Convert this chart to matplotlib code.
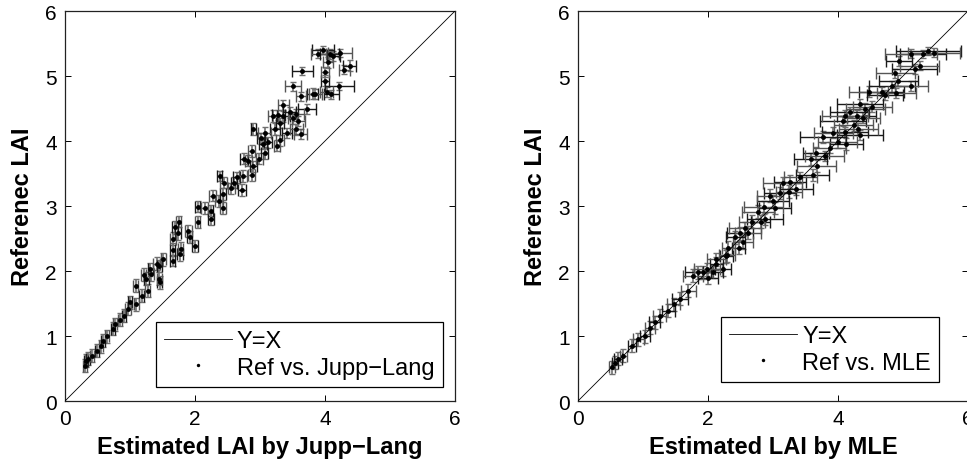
import numpy as np
import matplotlib
matplotlib.use('Agg')
import matplotlib.pyplot as plt

plt.rcParams['font.family'] = ['Liberation Sans', 'DejaVu Sans']

# --- 左图：Jupp-Lang 估计值 vs 参考 LAI ---
jl_x = [3.97, 3.90, 4.07, 4.23, 4.13, 4.05, 4.38, 4.30, 3.65, 4.00,
        4.00, 3.51, 4.22, 4.03, 4.10, 3.85, 3.81, 3.63, 3.72, 3.36,
        3.46, 3.56, 3.28, 3.20, 3.36, 3.51, 3.31, 3.59, 3.23, 3.56,
        3.42, 3.63, 2.90, 3.07, 3.02, 3.31, 3.12, 3.26, 3.05, 2.87,
        3.07, 2.99, 2.76, 2.82, 2.90, 2.87, 2.38, 2.74, 2.64, 2.44,
        2.60, 2.56, 2.72, 2.27, 2.43, 2.37, 2.04, 2.15, 2.24, 2.43,
        2.25, 2.04, 1.69, 1.75, 1.74, 1.90, 1.92, 1.66, 2.00, 1.78,
        1.66, 1.51, 1.66, 1.41, 1.31, 1.21, 1.45, 1.45, 1.25, 1.09,
        1.77, 1.33, 1.46, 1.27, 1.18, 1.10, 1.00, 0.97, 0.91, 0.77,
        0.74, 0.64, 0.59, 0.55, 0.49, 0.41, 0.36, 0.31, 0.32, 0.85]
jl_y = [5.40, 5.34, 5.34, 5.36, 5.31, 5.21, 5.16, 5.10, 5.08, 5.06,
        4.93, 4.84, 4.85, 4.75, 4.72, 4.72, 4.73, 4.69, 4.49, 4.55,
        4.44, 4.42, 4.40, 4.38, 4.38, 4.35, 4.28, 4.31, 4.18, 4.18,
        4.12, 4.11, 4.18, 4.13, 4.04, 4.01, 3.98, 3.93, 3.95, 3.85,
        3.82, 3.73, 3.73, 3.70, 3.61, 3.48, 3.46, 3.46, 3.44, 3.36,
        3.36, 3.27, 3.25, 3.16, 3.18, 3.08, 2.99, 2.97, 2.93, 2.97,
        2.80, 2.75, 2.67, 2.76, 2.58, 2.62, 2.52, 2.50, 2.39, 2.34,
        2.33, 2.18, 2.16, 2.11, 2.03, 1.94, 2.08, 1.88, 1.88, 1.77,
        2.26, 1.95, 1.83, 1.70, 1.62, 1.49, 1.52, 1.42, 1.31, 1.18,
        1.11, 1.00, 0.93, 0.84, 0.77, 0.70, 0.65, 0.54, 0.62, 1.25]
jl_xerr = [0.17, 0.12, 0.15, 0.18, 0.10, 0.08, 0.10, 0.08, 0.16, 0.06,
           0.06, 0.12, 0.22, 0.10, 0.12, 0.10, 0.08, 0.08, 0.14, 0.08,
           0.10, 0.12, 0.10, 0.08, 0.10, 0.08, 0.06, 0.10, 0.08, 0.10,
           0.08, 0.10, 0.04, 0.10, 0.06, 0.06, 0.06, 0.05, 0.06, 0.06,
           0.05, 0.05, 0.06, 0.05, 0.05, 0.05, 0.04, 0.06, 0.05, 0.05,
           0.05, 0.05, 0.06, 0.05, 0.05, 0.06, 0.04, 0.05, 0.04, 0.05,
           0.05, 0.04, 0.05, 0.04, 0.04, 0.05, 0.04, 0.05, 0.04, 0.04,
           0.04, 0.04, 0.04, 0.05, 0.04, 0.04, 0.04, 0.04, 0.04, 0.04,
           0.04, 0.04, 0.04, 0.04, 0.04, 0.04, 0.03, 0.04, 0.03, 0.03,
           0.03, 0.03, 0.03, 0.03, 0.03, 0.03, 0.03, 0.03, 0.03, 0.03]
jl_yerr = [0.06, 0.07, 0.08, 0.06, 0.08, 0.09, 0.08, 0.07, 0.06, 0.08,
           0.08, 0.07, 0.06, 0.08, 0.07, 0.08, 0.09, 0.07, 0.08, 0.08,
           0.09, 0.08, 0.08, 0.09, 0.08, 0.09, 0.08, 0.08, 0.09, 0.08,
           0.08, 0.08, 0.09, 0.09, 0.08, 0.09, 0.08, 0.09, 0.08, 0.09,
           0.09, 0.08, 0.09, 0.08, 0.09, 0.09, 0.08, 0.09, 0.09, 0.08,
           0.09, 0.08, 0.09, 0.08, 0.09, 0.09, 0.08, 0.09, 0.08, 0.09,
           0.09, 0.09, 0.10, 0.09, 0.10, 0.09, 0.09, 0.10, 0.09, 0.10,
           0.10, 0.10, 0.09, 0.10, 0.10, 0.10, 0.09, 0.10, 0.10, 0.10,
           0.10, 0.10, 0.10, 0.10, 0.10, 0.10, 0.10, 0.10, 0.10, 0.10,
           0.10, 0.10, 0.10, 0.10, 0.10, 0.10, 0.10, 0.10, 0.10, 0.10]

# --- 右图：MLE 估计值 vs 参考 LAI ---
mle_x = [5.39, 5.47, 5.31, 5.13, 4.94, 5.26, 5.18, 4.88, 4.93, 5.13,
         4.83, 4.47, 4.67, 4.90, 4.72, 4.53, 4.34, 4.42, 4.18, 4.11,
         4.29, 4.39, 4.08, 4.24, 4.11, 4.31, 4.34, 3.93, 3.77, 4.00,
         4.13, 3.87, 3.66, 3.80, 3.58, 3.67, 3.61, 3.42, 3.26, 3.15,
         3.36, 3.24, 3.11, 2.96, 3.00, 2.86, 3.03, 2.77, 2.88, 2.67,
         2.81, 2.57, 2.49, 2.62, 2.42, 2.54, 2.47, 2.31, 2.28, 2.13,
         2.23, 1.98, 1.85, 1.77, 2.08, 2.29, 2.13, 1.93, 2.00, 1.70,
         1.57, 1.47, 1.39, 1.26, 1.18, 1.11, 1.03, 0.93, 0.83, 0.70,
         0.62, 0.52, 0.57]
mle_y = [5.39, 5.36, 5.34, 5.34, 5.23, 5.16, 5.11, 5.04, 4.93, 4.85,
         4.84, 4.76, 4.76, 4.74, 4.71, 4.53, 4.57, 4.49, 4.45, 4.39,
         4.39, 4.36, 4.31, 4.24, 4.14, 4.18, 4.09, 4.13, 4.06, 3.98,
         3.95, 3.90, 3.82, 3.77, 3.72, 3.62, 3.48, 3.44, 3.37, 3.35,
         3.26, 3.22, 3.20, 3.16, 3.08, 2.98, 2.97, 2.91, 2.80, 2.76,
         2.76, 2.66, 2.58, 2.59, 2.52, 2.44, 2.36, 2.36, 2.23, 2.18,
         2.03, 2.03, 1.98, 1.93, 1.99, 2.24, 2.11, 1.98, 1.90, 1.70,
         1.57, 1.49, 1.39, 1.31, 1.21, 1.13, 1.00, 0.95, 0.85, 0.70,
         0.65, 0.52, 0.59]
mle_xerr = [0.50, 0.40, 0.35, 0.40, 0.20, 0.30, 0.35, 0.30, 0.30, 0.25,
            0.35, 0.30, 0.35, 0.30, 0.28, 0.30, 0.35, 0.30, 0.30, 0.35,
            0.30, 0.25, 0.35, 0.30, 0.35, 0.30, 0.35, 0.30, 0.35, 0.30,
            0.25, 0.25, 0.20, 0.30, 0.25, 0.30, 0.25, 0.25, 0.25, 0.30,
            0.25, 0.20, 0.25, 0.20, 0.25, 0.30, 0.25, 0.25, 0.28, 0.20,
            0.15, 0.25, 0.20, 0.20, 0.15, 0.15, 0.10, 0.10, 0.10, 0.15,
            0.12, 0.20, 0.20, 0.15, 0.15, 0.12, 0.10, 0.15, 0.15, 0.12,
            0.12, 0.10, 0.10, 0.10, 0.08, 0.08, 0.08, 0.08, 0.06, 0.06,
            0.06, 0.05, 0.05]
mle_yerr = [0.06, 0.07, 0.06, 0.07, 0.08, 0.07, 0.08, 0.07, 0.08, 0.08,
            0.08, 0.08, 0.07, 0.08, 0.08, 0.09, 0.08, 0.09, 0.08, 0.09,
            0.08, 0.09, 0.08, 0.09, 0.08, 0.09, 0.08, 0.09, 0.09, 0.08,
            0.09, 0.09, 0.09, 0.08, 0.09, 0.09, 0.09, 0.09, 0.10, 0.09,
            0.09, 0.10, 0.09, 0.10, 0.09, 0.10, 0.09, 0.10, 0.09, 0.10,
            0.10, 0.10, 0.10, 0.10, 0.10, 0.10, 0.10, 0.10, 0.10, 0.10,
            0.10, 0.10, 0.10, 0.10, 0.10, 0.10, 0.10, 0.10, 0.10, 0.10,
            0.10, 0.10, 0.10, 0.10, 0.10, 0.10, 0.10, 0.10, 0.10, 0.10,
            0.10, 0.10, 0.10]

PANELS = [
    {'x': jl_x, 'y': jl_y, 'xerr': jl_xerr, 'yerr': jl_yerr,
     'xlabel': 'Estimated LAI by Jupp\u2212Lang', 'label': 'Ref vs. Jupp\u2212Lang',
     'rect': [0.0672, 0.1336, 0.4033, 0.8405], 'leg_anchor': (0.969, 0.036)},
    {'x': mle_x, 'y': mle_y, 'xerr': mle_xerr, 'yerr': mle_yerr,
     'xlabel': 'Estimated LAI by MLE', 'label': 'Ref vs. MLE',
     'rect': [0.5977, 0.1336, 0.4033, 0.8405], 'leg_anchor': (0.926, 0.049)},
]

fig = plt.figure(figsize=(9.67, 4.64), dpi=100)

for p in PANELS:
    ax = fig.add_axes(p['rect'])
    x = np.array(p['x'])
    y = np.array(p['y'])
    xe = np.array(p['xerr'])
    ye = np.array(p['yerr'])

    # Y=X 参考线
    ax.plot([0, 6], [0, 6], color='black', lw=0.6, label='Y=X', zorder=3)

    # 竖直误差（灰色）
    ax.errorbar(x, y, yerr=ye, fmt='none', ecolor='#707070', elinewidth=1.2,
                capsize=2.0, capthick=1.0, zorder=1)
    # 水平误差：黑灰交替
    ax.errorbar(x[::2], y[::2], xerr=xe[::2], fmt='none', ecolor='#1a1a1a',
                elinewidth=1.0, capsize=4.5, capthick=1.0, zorder=2)
    ax.errorbar(x[1::2], y[1::2], xerr=xe[1::2], fmt='none', ecolor='#555555',
                elinewidth=1.0, capsize=4.5, capthick=1.0, zorder=2)
    ax.plot(x, y, 'o', color='black', ms=3.5, mew=0, label=p['label'], zorder=4)

    ax.set_xlim(0, 6)
    ax.set_ylim(0, 6)
    ax.set_xticks([0, 2, 4, 6])
    ax.set_yticks(range(7))
    ax.tick_params(direction='in', top=True, right=True, length=4, width=0.7,
                   labelsize=15, pad=6)
    for s in ax.spines.values():
        s.set_linewidth(0.9)
        s.set_color('#222222')

    ax.set_xlabel(p['xlabel'], fontsize=17, fontweight='bold', labelpad=5)
    ax.set_ylabel('Referenec LAI', fontsize=17, fontweight='bold', labelpad=8)

    leg = ax.legend(loc='lower right', bbox_to_anchor=p['leg_anchor'],
                    borderaxespad=0, fontsize=17, fancybox=False,
                    edgecolor='black', framealpha=1, handlelength=2.9,
                    handletextpad=0.2, borderpad=0.35, labelspacing=0.2,
                    markerscale=0.7)
    leg.get_frame().set_linewidth(0.9)

fig.savefig('out.png', dpi=100)
